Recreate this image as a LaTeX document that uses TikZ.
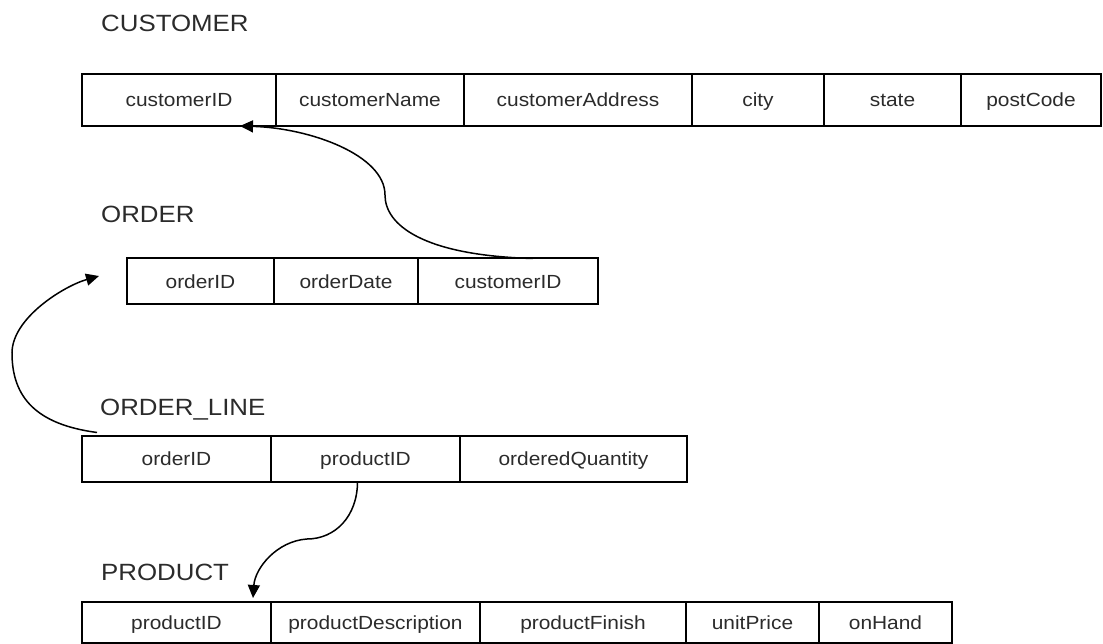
\documentclass[tikz,border=0pt]{standalone}
\usepackage{fontspec}
\setmainfont{Liberation Sans}[FakeStretch=1.1]
\usetikzlibrary{positioning, calc}
\usetikzlibrary{arrows.meta}
\definecolor{txtgray}{HTML}{2B2B2B}

\begin{document}
\begin{tikzpicture}[x=1pt, y=-1pt,
    cell/.style={draw, line width=2pt, inner sep=0pt, outer sep=0pt, text height=13.6pt, text depth=0pt, text=txtgray, font=\fontsize{19}{23}\selectfont},
    title/.style={anchor=base west, inner sep=0pt, text=txtgray, font=\fontsize{23.5}{28}\selectfont},
    link/.style={line width=1.5pt, -{Triangle[length=13pt, width=12pt]}}]

    \useasboundingbox (0,0) rectangle (1103,644);

    % Table titles
    \node[title] (tC) at (101,32) {CUSTOMER};
    \node[title] (tO) at (101,223) {ORDER};
    \node[title] (tL) at (100,415) {ORDER\_LINE};
    \node[title] (tP) at (101,580) {PRODUCT};

    % CUSTOMER row
    \foreach \i/\txt/\xa/\xb in {1/customerID/82/276, 2/customerName/276/464, 3/customerAddress/464/692, 4/city/692/824, 5/state/824/961, 6/postCode/961/1101} {
        \node[cell, minimum width=\xb pt-\xa pt, minimum height=52pt] (C\i) at ({(\xa+\xb)/2},100) {\txt};
    }

    % ORDER row
    \foreach \i/\txt/\xa/\xb in {1/orderID/127/274, 2/orderDate/274/418, 3/customerID/418/598} {
        \node[cell, minimum width=\xb pt-\xa pt, minimum height=46pt] (O\i) at ({(\xa+\xb)/2},281.5) {\txt};
    }

    % ORDER_LINE row
    \foreach \i/\txt/\xa/\xb in {1/orderID/82/271, 2/productID/271/460, 3/orderedQuantity/460/687} {
        \node[cell, minimum width=\xb pt-\xa pt, minimum height=46pt] (L\i) at ({(\xa+\xb)/2},458.5) {\txt};
    }

    % PRODUCT row
    \foreach \i/\txt/\xa/\xb in {1/productID/82/271, 2/productDescription/271/480, 3/productFinish/480/686, 4/unitPrice/686/819, 5/onHand/819/952} {
        \node[cell, minimum width=\xb pt-\xa pt, minimum height=41pt] (P\i) at ({(\xa+\xb)/2},622.5) {\txt};
    }

    % Links between keys
    \coordinate (m1) at (385,195);
    \coordinate (m2) at (12,353);
    \coordinate (m3) at (307,539);
    \coordinate (end2) at ($(O1.west)+(-28,-5.5)$);

    \draw[link] ($(O3.north)+(25,0)$) .. controls +(-110,-3) and +(0,30) .. (m1)
        .. controls +(0,-40) and +(70,2) .. ($(C1.south)+(61,0)$);
    \draw[link] ($(L1.north west)+(15,-3)$) .. controls +(-60,-8) and +(0,45) .. (m2)
        .. controls +(0,-35) and +(-35,10) .. (end2);
    \draw[link] ($(L2.south)+(-8,0)$) .. controls +(0,35) and +(28,0) .. (m3)
        .. controls +(-30,2) and +(2,-30) .. ($(P1.north east)+(-18,-4)$);

\end{tikzpicture}
\end{document}
